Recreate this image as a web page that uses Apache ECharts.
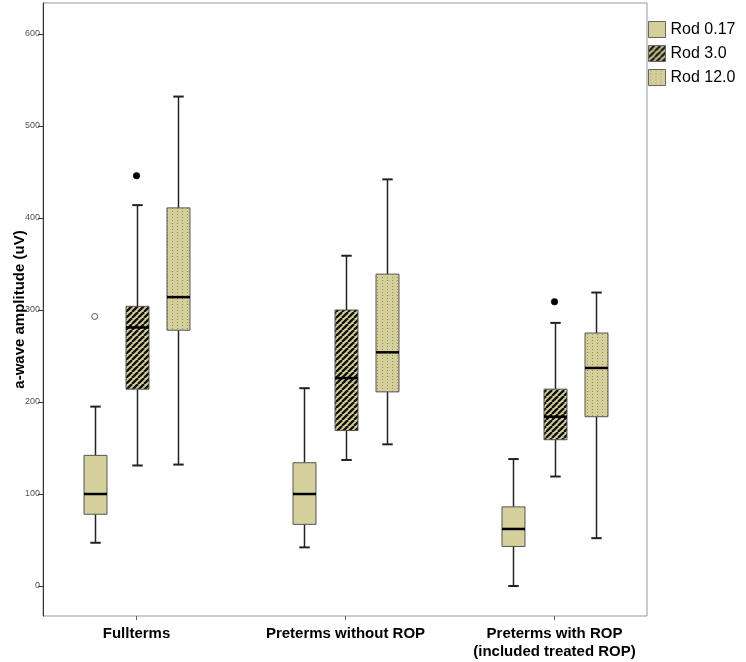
<!DOCTYPE html>
<html>
<head>
<meta charset="utf-8">
<script src="https://cdn.jsdelivr.net/npm/echarts@6/dist/echarts.min.js"></script>
<style>
html,body{margin:0;padding:0;background:#fff;}
#chart{width:746px;height:662px;}
</style>
</head>
<body>
<div id="chart"></div>
<script>
// ---- data ----
const categories = ['Fullterms', 'Preterms without ROP', 'Preterms with ROP\n(included treated ROP)'];
const seriesNames = ['Rod 0.17', 'Rod 3.0', 'Rod 12.0'];
// each row: [whiskerLow, Q1, median, Q3, whiskerHigh]
const rod017 = [[47, 78, 100, 142, 195], [42, 67, 100, 134, 215], [0, 43, 62, 86, 138]];
const rod30  = [[131, 214, 281, 304, 414], [137, 169, 226, 300, 359], [119, 159, 184, 214, 286]];
const rod120 = [[132, 278, 314, 411, 532], [154, 211, 254, 339, 442], [52, 184, 237, 275, 319]];
// [categoryIndex, seriesIndex, value, kind]
const outliers = [[0, 0, 293, 0], [0, 1, 446, 1], [2, 1, 309, 1]];
const yTicks = [0, 100, 200, 300, 400, 500, 600];
const yName = 'a-wave amplitude (uV)';

// ---- patterns ----
const KHAKI = '#d5d09b';
function makeStripe() {
  const s = 6, c = document.createElement('canvas');
  c.width = s; c.height = s;
  const g = c.getContext('2d');
  g.fillStyle = KHAKI; g.fillRect(0, 0, s, s);
  g.strokeStyle = '#111'; g.lineWidth = 2.3;
  for (let k = -1; k <= 1; k++) {
    g.beginPath(); g.moveTo(k * s, s); g.lineTo(k * s + s, 0); g.stroke();
  }
  return c;
}
function makeDots() {
  const c = document.createElement('canvas');
  c.width = 5; c.height = 3;
  const g = c.getContext('2d');
  g.fillStyle = KHAKI; g.fillRect(0, 0, 5, 3);
  g.fillStyle = '#958d58'; g.fillRect(2, 1, 1, 1);
  return c;
}
const fills = [KHAKI, {image: makeStripe(), repeat: 'repeat'}, {image: makeDots(), repeat: 'repeat'}];
const allData = [rod017, rod30, rod120];

const Y_MIN = -32.6, Y_MAX = 633.7;

function boxRenderer(s) {
  return function (params, api) {
    const cat = api.value(0);
    const band = api.size([1, 0])[0];
    const cx = Math.round(api.coord([cat, 0])[0] + (s - 1) * 0.2 * band) + 0.5;
    const y = k => api.coord([cat, api.value(k)])[1];
    const bw = 0.11 * band, cap = 0.05 * band;
    const lo = y(1), q1 = y(2), md = y(3), q3 = y(4), hi = y(5);
    const wl = {stroke: '#222', lineWidth: 1.5};
    return {
      type: 'group',
      children: [
        {type: 'line', shape: {x1: cx, y1: lo, x2: cx, y2: q1}, style: wl},
        {type: 'line', shape: {x1: cx, y1: q3, x2: cx, y2: hi}, style: wl},
        {type: 'line', shape: {x1: cx - cap / 2, y1: lo, x2: cx + cap / 2, y2: lo}, style: {stroke: '#222', lineWidth: 2}},
        {type: 'line', shape: {x1: cx - cap / 2, y1: hi, x2: cx + cap / 2, y2: hi}, style: {stroke: '#222', lineWidth: 2}},
        {type: 'rect', shape: {x: cx - bw / 2, y: q3, width: bw, height: q1 - q3},
          style: {fill: fills[s], stroke: '#555', lineWidth: 1}},
        {type: 'line', shape: {x1: cx - bw / 2, y1: md, x2: cx + bw / 2, y2: md}, style: {stroke: '#000', lineWidth: 2.5}}
      ]
    };
  };
}

const series = seriesNames.map((name, s) => ({
  name: name,
  type: 'custom',
  xAxisIndex: 0, yAxisIndex: 0,
  renderItem: boxRenderer(s),
  itemStyle: {color: fills[s], borderColor: '#555', borderWidth: 1},
  encode: {x: 0, y: [1, 2, 3, 4, 5]},
  data: allData[s].map((d, i) => [i].concat(d)),
  silent: true, z: 2
}));

series.push({
  name: 'outliers',
  type: 'custom',
  xAxisIndex: 0, yAxisIndex: 0,
  renderItem: function (params, api) {
    const cat = api.value(0), s = api.value(1), kind = api.value(3);
    const band = api.size([1, 0])[0];
    const p = api.coord([cat, api.value(2)]);
    const cx = p[0] + (s - 1) * 0.2 * band;
    return {
      type: 'circle', shape: {cx: cx, cy: p[1], r: kind ? 3.3 : 3},
      style: kind ? {fill: '#000', stroke: '#000', lineWidth: 0.5} : {fill: '#fff', stroke: '#555', lineWidth: 1}
    };
  },
  encode: {x: 0, y: 2},
  data: outliers,
  silent: true, z: 3
});

const chart = echarts.init(document.getElementById('chart'), null, {renderer: 'canvas'});
chart.setOption({
  animation: false,
  backgroundColor: '#fff',
  textStyle: {fontFamily: 'Liberation Sans, Arial, sans-serif'},
  legend: {
    data: seriesNames.map((n, s) => ({name: n, icon: 'rect',
      itemStyle: {color: fills[s], borderColor: '#666', borderWidth: 1}})),
    orient: 'vertical', left: 648, top: 21, padding: 0,
    itemWidth: 17, itemHeight: 16, itemGap: 7,
    selectedMode: false,
    textStyle: {fontSize: 16, color: '#000', fontFamily: 'Liberation Sans, Arial, sans-serif'}
  },
  grid: [
    {left: 32, width: 627, top: 3, height: 613, show: false, outerBoundsMode: 'none', containLabel: false},
    {left: 43, width: 604, top: 3, height: 613, show: true, borderColor: '#999', borderWidth: 1,
      backgroundColor: 'transparent', outerBoundsMode: 'none', containLabel: false}
  ],
  xAxis: [
    {type: 'category', gridIndex: 0, data: categories, boundaryGap: true,
      axisLine: {show: false, onZero: false},
      axisTick: {show: true, alignWithLabel: true, length: 4, lineStyle: {color: '#666'}},
      axisLabel: {interval: 0, margin: 9, fontSize: 15, fontWeight: 'bold', color: '#000', lineHeight: 18,
        fontFamily: 'Liberation Sans, Arial, sans-serif'},
      splitLine: {show: false}},
    {type: 'value', gridIndex: 1, min: 0, max: 1, show: false}
  ],
  yAxis: [
    {type: 'value', gridIndex: 0, min: Y_MIN, max: Y_MAX, show: false, splitLine: {show: false}},
    {type: 'value', gridIndex: 1, min: Y_MIN, max: Y_MAX,
      name: yName, nameLocation: 'middle', nameGap: 16, nameMoveOverlap: false,
      nameTextStyle: {fontSize: 15, fontWeight: 'bold', color: '#000', fontFamily: 'Liberation Sans, Arial, sans-serif'},
      axisLine: {show: true, onZero: false, lineStyle: {color: '#333', width: 1}},
      axisTick: {show: true, length: 5, customValues: yTicks, lineStyle: {color: '#333'}},
      axisLabel: {show: true, customValues: yTicks, fontSize: 9, color: '#555', margin: 3},
      splitLine: {show: false}}
  ],
  series: series
});
</script>
</body>
</html>
